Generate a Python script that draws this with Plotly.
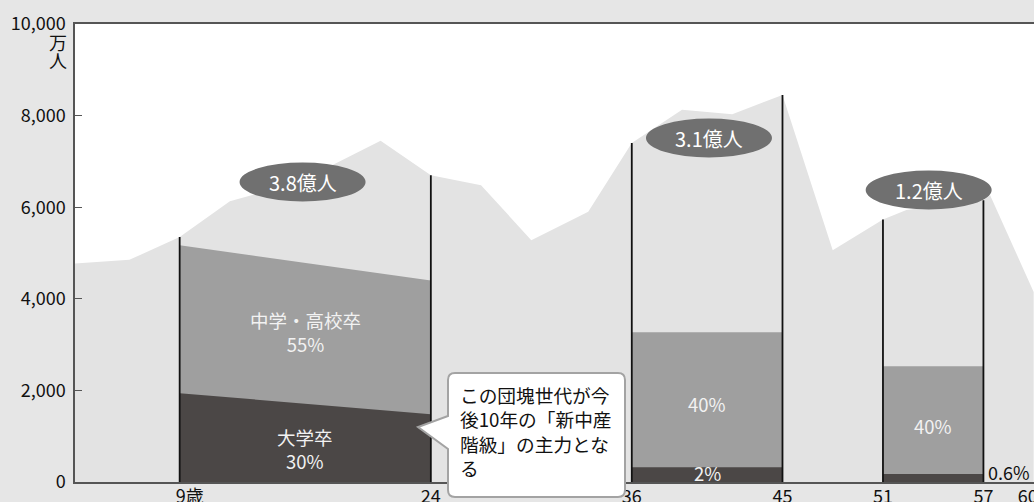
import plotly.graph_objects as go

# ---- data -------------------------------------------------------------
# population by age (万人)
ages = [2.75, 6, 9, 12, 16, 21, 24, 27, 30, 33.4, 36, 39, 42, 45, 48, 51, 52.4, 57, 57.4, 60]
population = [4770, 4850, 5350, 6130, 6530, 7450, 6700, 6480, 5280, 5900, 7400, 8130, 8030, 8450, 5060, 5730, 5940, 6150, 6260, 4150]

# generation blocks (start age, end age)
block_edges = [(9, 24), (36, 45), (51, 57)]
block_totals = ["3.8億人", "3.1億人", "1.2億人"]
edge_ages = [9, 24, 36, 45, 51, 57]
edge_tops = [5350, 6700, 7400, 8450, 5730, 6150]

# upper boundary of 中学・高校卒 band at block start / end
mid_band_top = [(5170, 4400), (3270, 3270), (2530, 2530)]
# upper boundary of 大学卒 band at block start / end
univ_band_top = [(1940, 1480), (320, 320), (175, 175)]

NB = "\u00a0"
tick_ages = [9, 24, 36, 45, 51, 57, 60]
tick_text = [NB * 5 + "9歳", "24", "36", "45", "51", "57", "60" + NB * 3]
y_ticks = [0, 2000, 4000, 6000, 8000, 10000]
y_tick_text = ["0", "2,000", "4,000", "6,000", "8,000", "10,000"]

# ---- style ------------------------------------------------------------
FONT = "Noto Sans CJK JP"
PAPER = "#e6e6e6"
AREA = "#e3e3e3"
MID = "#9f9f9f"
DARK = "#4b4746"
W, H = 1034, 502
ML, MR, MT, MB = 75, 0, 24, 20
PW, PH = W - ML - MR, H - MT - MB


def px_x(x):
    return (x - ML) / PW


def px_y(y):
    return (H - MB - y) / PH


fig = go.Figure()

# population silhouette
fig.add_trace(go.Scatter(x=ages, y=population, mode="lines", fill="tozeroy",
                         fillcolor=AREA, line=dict(width=0), hoverinfo="skip",
                         showlegend=False))

# education bands inside each block
for (a0, a1), mid, uni in zip(block_edges, mid_band_top, univ_band_top):
    fig.add_trace(go.Scatter(x=[a0, a1], y=list(mid), mode="lines", fill="tozeroy",
                             fillcolor=MID, line=dict(width=0), showlegend=False,
                             hoverinfo="skip"))
    fig.add_trace(go.Scatter(x=[a0, a1], y=list(uni), mode="lines", fill="tozeroy",
                             fillcolor=DARK, line=dict(width=0), showlegend=False,
                             hoverinfo="skip"))

# vertical age markers
vx, vy = [], []
for a, t in zip(edge_ages, edge_tops):
    vx += [a, a, None]
    vy += [0, t, None]
fig.add_trace(go.Scatter(x=vx, y=vy, mode="lines", line=dict(color="#111", width=1.8),
                         showlegend=False, hoverinfo="skip"))

shapes = []
annotations = []

# total population badges
badge_pos = [(16.34, 6550), (40.61, 7510), (53.73, 6375)]
for (bx, by), label in zip(badge_pos, block_totals):
    shapes.append(dict(type="circle", xref="x", yref="y", xsizemode="pixel",
                       ysizemode="pixel", xanchor=bx, yanchor=by,
                       x0=-63, x1=63, y0=-19.5, y1=19.5,
                       fillcolor="#707070", line=dict(width=0), layer="above"))
    annotations.append(dict(x=bx, y=by, xref="x", yref="y", text=label,
                            xanchor="center", yanchor="middle", showarrow=False,
                            font=dict(family=FONT, size=20, color="white")))

# band labels
band_labels = [
    (16.5, 3280, "中学・高校卒<br>55%"),
    (16.5, 716, "大学卒<br>30%"),
    (40.5, 1700, "40%"),
    (40.5, 190, "2%"),
    (54.0, 1222, "40%"),
]
for bx, by, txt in band_labels:
    annotations.append(dict(x=bx, y=by, xref="x", yref="y", text=txt, showarrow=False,
                            xanchor="center", yanchor="middle",
                            font=dict(family=FONT, size=18.5, color="#f2f2f2")))
annotations.append(dict(x=58.5, y=225, xref="x", yref="y", text="0.6%", showarrow=False,
                        xanchor="center", yanchor="middle",
                        font=dict(family=FONT, size=18, color="#111")))

# unit label under the top tick
for ch, py in (("万", 42), ("人", 60)):
    annotations.append(dict(x=px_x(58), y=px_y(py), xref="paper", yref="paper", text=ch,
                            xanchor="center", yanchor="middle", showarrow=False,
                            font=dict(family=FONT, size=18, color="#111")))

# speech-bubble callout
L, R, T, B, r = 448, 625, 373, 497, 7
tip_x, tip_y, base_t, base_b = 418, 427, 416, 449
pts = [
    ("M", L + r, T), ("L", R - r, T), ("Q", R, T, R, T + r), ("L", R, B - r),
    ("Q", R, B, R - r, B), ("L", L + r, B), ("Q", L, B, L, B - r), ("L", L, base_b),
    ("L", tip_x, tip_y), ("L", L, base_t), ("L", L, T + r), ("Q", L, T, L + r, T),
]
path = ""
for p in pts:
    cmd = p[0]
    coords = p[1:]
    seg = " ".join(f"{px_x(coords[i]):.5f},{px_y(coords[i + 1]):.5f}"
                   for i in range(0, len(coords), 2))
    path += f"{cmd}{seg} "
path += "Z"
shapes.append(dict(type="path", xref="paper", yref="paper", path=path,
                   fillcolor="white", line=dict(color="#a3a3a3", width=2), layer="above"))
annotations.append(dict(x=px_x(458), y=px_y(431), xref="paper", yref="paper",
                        xanchor="left", yanchor="middle", align="left", showarrow=False,
                        text="この団塊世代が今<br>後10年の「新中産<br>階級」の主力とな<br>る",
                        font=dict(family=FONT, size=18.7, color="#111")))

fig.update_layout(
    width=W, height=H,
    margin=dict(l=ML, r=MR, t=MT, b=MB),
    paper_bgcolor=PAPER, plot_bgcolor="white",
    font=dict(family=FONT, size=18, color="#111"),
    shapes=shapes, annotations=annotations,
    xaxis=dict(range=[2.75, 60.02], tickvals=tick_ages, ticktext=tick_text,
               showgrid=False, zeroline=False, showline=True, linecolor="#555",
               linewidth=1.5, mirror=True, ticks="", automargin=False,
               ticklabeloverflow="allow", ticklabelstandoff=-2,
               tickfont=dict(family=FONT, size=18, color="#111")),
    yaxis=dict(range=[0, 10000], tickvals=y_ticks, ticktext=y_tick_text,
               showgrid=False, zeroline=False, showline=True, linecolor="#555",
               linewidth=1.5, ticks="inside", ticklen=7, tickcolor="#555",
               ticklabelstandoff=4, automargin=False,
               tickfont=dict(family=FONT, size=18, color="#111")),
)

fig.write_html("out.html")
